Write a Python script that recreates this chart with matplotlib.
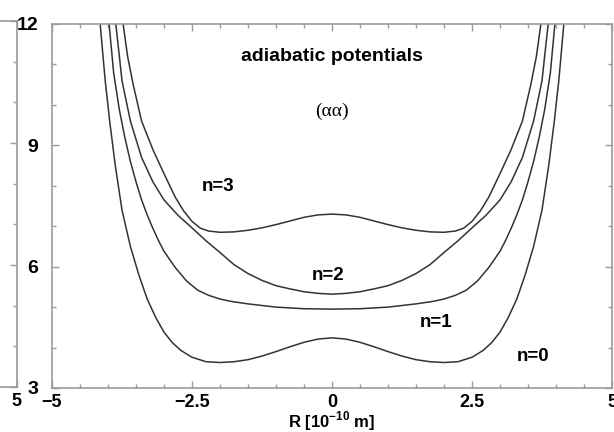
import numpy as np
import matplotlib
matplotlib.use("Agg")
import matplotlib.pyplot as plt
from matplotlib.ticker import MultipleLocator

plt.rcParams["font.family"] = ["Liberation Sans", "DejaVu Sans"]
plt.rcParams["mathtext.fontset"] = "custom"
plt.rcParams["mathtext.rm"] = "Liberation Sans:bold"
plt.rcParams["mathtext.bf"] = "Liberation Sans:bold"

# adiabatic potentials (R in 1e-10 m)
r_n0 = [-4.14, -4.05, -3.97, -3.87, -3.75, -3.6, -3.45, -3.3, -3.15, -3.0, -2.85, -2.7, -2.5, -2.25,
        -2.0, -1.75, -1.5, -1.25, -1.0, -0.75, -0.5, -0.25, 0.0, 0.25, 0.5, 0.75, 1.0, 1.25, 1.5,
        1.75, 2.0, 2.25, 2.5, 2.7, 2.85, 3.0, 3.15, 3.3, 3.45, 3.6, 3.75, 3.87, 3.97, 4.05, 4.14]
v_n0 = [12.0, 10.6, 9.6, 8.5, 7.4, 6.5, 5.8, 5.2, 4.75, 4.38, 4.12, 3.93, 3.76, 3.65,
        3.63, 3.65, 3.70, 3.79, 3.90, 4.02, 4.13, 4.21, 4.24, 4.21, 4.13, 4.02, 3.90, 3.79, 3.70,
        3.65, 3.63, 3.65, 3.76, 3.93, 4.12, 4.38, 4.75, 5.2, 5.8, 6.5, 7.4, 8.5, 9.6, 10.6, 12.0]

r_n1 = [-3.98, -3.9, -3.8, -3.7, -3.6, -3.5, -3.4, -3.3, -3.2, -3.1, -3.0, -2.8, -2.6, -2.4, -2.2,
        -2.0, -1.8, -1.5, -1.0, -0.5, 0.0, 0.5, 1.0, 1.5, 1.8, 2.0, 2.2, 2.4, 2.6, 2.8, 3.0,
        3.1, 3.2, 3.3, 3.4, 3.5, 3.6, 3.7, 3.8, 3.9, 3.98]
v_n1 = [12.0, 10.8, 9.9, 9.2, 8.6, 8.1, 7.65, 7.28, 6.95, 6.65, 6.38, 5.98, 5.65, 5.42, 5.29,
        5.20, 5.14, 5.08, 5.00, 4.96, 4.95, 4.96, 5.00, 5.08, 5.14, 5.20, 5.29, 5.42, 5.65, 5.98, 6.38,
        6.65, 6.95, 7.28, 7.65, 8.1, 8.6, 9.2, 9.9, 10.8, 12.0]

r_n2 = [-3.86, -3.75, -3.6, -3.4, -3.2, -3.0, -2.75, -2.5, -2.25, -2.0, -1.75, -1.5, -1.25, -1.0,
        -0.75, -0.5, -0.25, 0.0, 0.25, 0.5, 0.75, 1.0, 1.25, 1.5, 1.75, 2.0, 2.25, 2.5, 2.75,
        3.0, 3.2, 3.4, 3.6, 3.75, 3.86]
v_n2 = [12.0, 10.6, 9.6, 8.7, 8.1, 7.65, 7.27, 6.96, 6.64, 6.35, 6.05, 5.83, 5.66, 5.53,
        5.45, 5.38, 5.34, 5.32, 5.34, 5.38, 5.45, 5.53, 5.66, 5.83, 6.05, 6.35, 6.64, 6.96, 7.27,
        7.65, 8.1, 8.7, 9.6, 10.6, 12.0]

r_n3 = [-3.73, -3.65, -3.55, -3.4, -3.2, -3.0, -2.8, -2.65, -2.5, -2.35, -2.2, -2.0, -1.75, -1.5,
        -1.25, -1.0, -0.75, -0.5, -0.25, 0.0, 0.25, 0.5, 0.75, 1.0, 1.25, 1.5, 1.75, 2.0, 2.2,
        2.35, 2.5, 2.65, 2.8, 3.0, 3.2, 3.4, 3.55, 3.65, 3.73]
v_n3 = [12.0, 11.2, 10.5, 9.6, 8.9, 8.3, 7.72, 7.38, 7.12, 6.95, 6.88, 6.85, 6.86, 6.90,
        6.96, 7.04, 7.13, 7.22, 7.28, 7.30, 7.28, 7.22, 7.13, 7.04, 6.96, 6.90, 6.86, 6.85, 6.88,
        6.95, 7.12, 7.38, 7.72, 8.3, 8.9, 9.6, 10.5, 11.2, 12.0]

curve_labels = ["n=0", "n=1", "n=2", "n=3"]
label_r = [3.59, 1.86, -0.07, -2.04]
label_v = [3.79, 4.63, 5.77, 7.97]

xticks = [-5, -2.5, 0, 2.5, 5]
xticklabels = ["\u22125", "\u22122.5", "0", "2.5", "5"]
yticks = [3, 6, 9, 12]

SPINE = "#9a9a9a"
LINE = "#333333"

W, H = 614, 432
fig = plt.figure(figsize=(W / 100, H / 100), dpi=100)


def style_axes(ax):
    for s in ax.spines.values():
        s.set_color(SPINE)
        s.set_linewidth(1.2)
    ax.set_xlim(-5, 5)
    ax.set_ylim(3, 12)
    ax.xaxis.set_minor_locator(MultipleLocator(0.5))
    ax.yaxis.set_minor_locator(MultipleLocator(1))
    ax.tick_params(which="both", direction="in", top=True, right=True, color=SPINE, width=1.0)
    ax.tick_params(which="major", length=5)
    ax.tick_params(which="minor", length=3)
    ax.tick_params(axis="x", pad=4, labelsize=13)
    ax.tick_params(axis="y", pad=10, labelsize=14)
    ax.set_xticks(xticks)
    ax.set_yticks(yticks)


# neighbouring panel, mostly cut off on the left: only its last x label shows
left_ax = fig.add_axes([(16.5 - 560) / W, 1 - 387 / H, 560 / W, 366 / H])
style_axes(left_ax)
left_ax.set_xticklabels(["", "", "", "", "5"], fontweight="bold")
left_ax.set_yticklabels([])

ax = fig.add_axes([52 / W, 1 - 388 / H, 560 / W, 364 / H])
style_axes(ax)
ax.set_xticklabels(xticklabels, fontweight="bold")
ax.set_yticklabels([str(t) for t in yticks], fontweight="bold")

for r, v in [(r_n0, v_n0), (r_n1, v_n1), (r_n2, v_n2), (r_n3, v_n3)]:
    ax.plot(r, v, color=LINE, lw=1.1)

for lab, x, y in zip(curve_labels, label_r, label_v):
    ax.text(x, y, lab, fontsize=13.5, fontweight="bold", ha="center", va="center")

ax.text(0, 11.2, "adiabatic potentials", fontsize=14, fontweight="bold", ha="center", va="center")
ax.text(0, 9.85, "(\u03b1\u03b1)", fontsize=14, family=["Liberation Serif", "DejaVu Serif"],
        ha="center", va="center")

ax.set_xlabel("R [10$^{-10}$ m]", fontsize=12, fontweight="bold", labelpad=-0.5)

fig.savefig("out.png", dpi=100)
